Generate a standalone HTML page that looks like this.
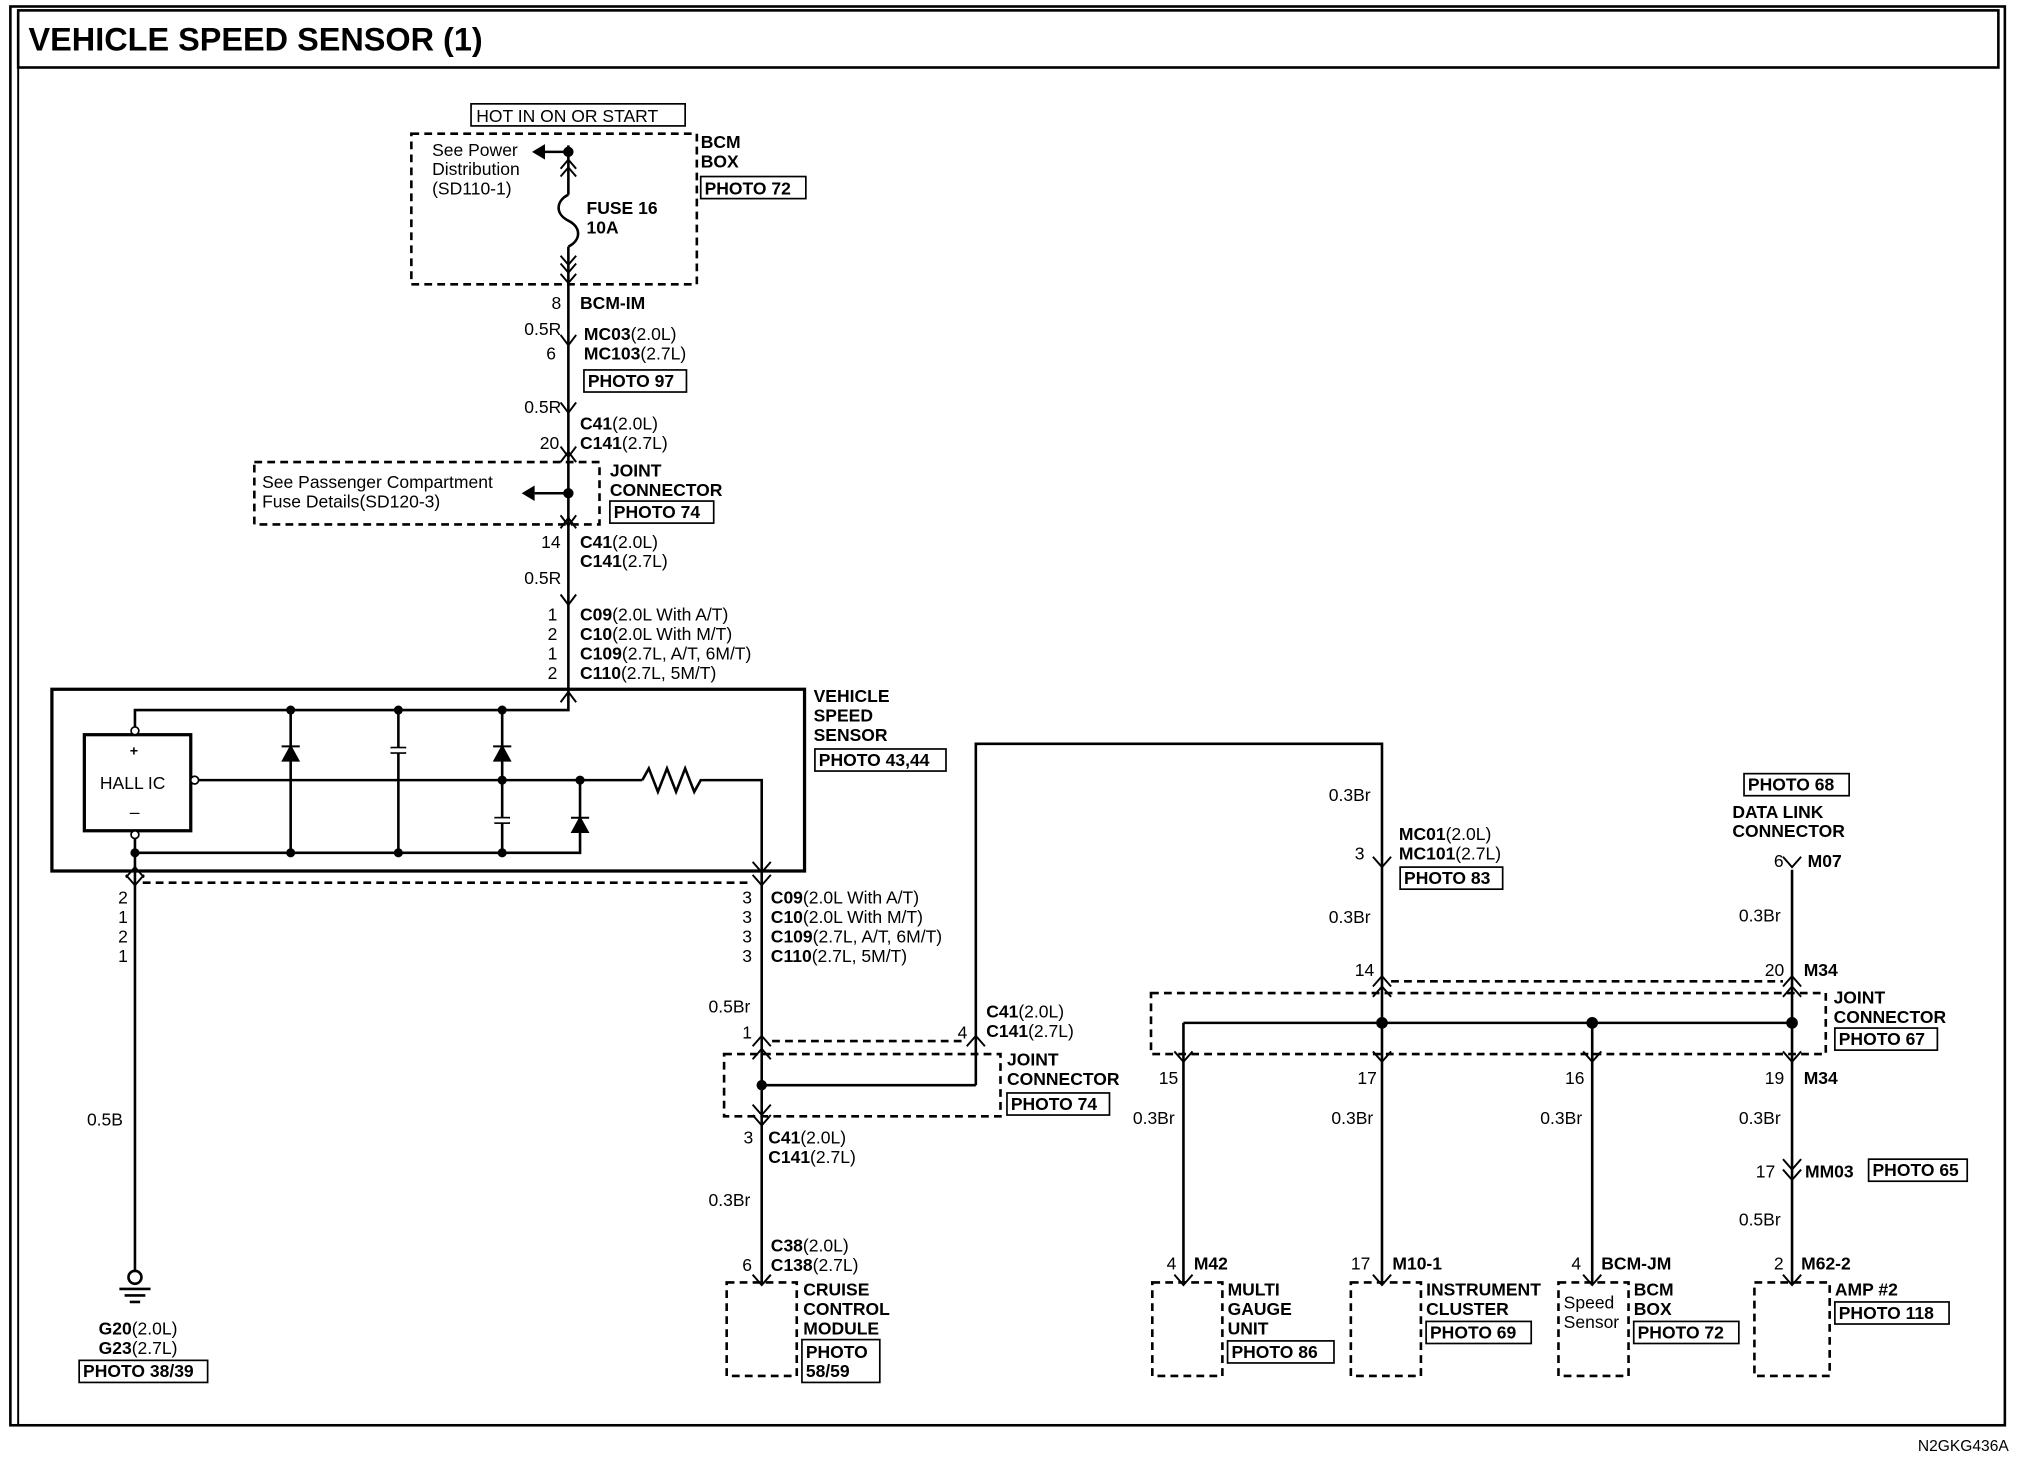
<!DOCTYPE html>
<html><head><meta charset="utf-8"><style>
html,body{margin:0;padding:0;background:#fff}
svg{display:block}
text{font-family:"Liberation Sans",Arial,sans-serif;font-size:13.5px;fill:#000}
.b{font-weight:bold}
</style></head><body>
<svg width="2036" height="1472" viewBox="0 0 1569 1134" preserveAspectRatio="none" xmlns="http://www.w3.org/2000/svg">
<g fill="none" stroke="#000" stroke-width="1.3">
<rect x="8" y="5" width="1537" height="1093" stroke-width="2"/>
<rect x="14" y="8" width="1526" height="44" stroke-width="2"/>
<line x1="14" y1="52" x2="14" y2="1098" stroke-width="1.5"/>
</g>
<text x="22" y="39" class="b" style="font-size:25px">VEHICLE SPEED SENSOR (1)</text>
<text x="1478" y="1118" style="font-size:12px">N2GKG436A</text>

<g fill="none" stroke="#000" stroke-width="2">
<line x1="438" y1="112" x2="438" y2="150"/>
<path d="M438 150 c-10 5 -10 15 0 20 c10 5 10 15 0 20"/>
<line x1="438" y1="190" x2="438" y2="531"/>
<line x1="438" y1="117" x2="420" y2="117"/>
<line x1="438" y1="380" x2="412" y2="380"/>
<rect x="40" y="531" width="580" height="140" stroke-width="2.5"/>
<rect x="65" y="566" width="82" height="74" stroke-width="2.5"/>
<polyline points="104,566 104,547 438,547 438,531"/>
<polyline points="104,640 104,657 447,657 447,601"/>
<line x1="147" y1="601" x2="495" y2="601"/>
<polyline points="495,601 500,592 507,610 514,592 521,610 528,592 535,610 540,601 587,601 587,671"/>
<line x1="224" y1="547" x2="224" y2="657"/>
<line x1="307" y1="547" x2="307" y2="657"/>
<line x1="387" y1="547" x2="387" y2="657"/>
<line x1="104" y1="657" x2="104" y2="980"/>
<line x1="587" y1="671" x2="587" y2="990"/>
<polyline points="752,805 752,573 1065,573 1065,990"/>
<line x1="587" y1="836" x2="752" y2="836"/>
<line x1="752" y1="805" x2="752" y2="836"/>
<line x1="1381" y1="670" x2="1381" y2="990"/>
<line x1="912" y1="788" x2="1381" y2="788"/>
<line x1="912" y1="788" x2="912" y2="990"/>
<line x1="1227" y1="788" x2="1227" y2="990"/>
</g>
<g fill="#000" stroke="#000" stroke-width="1.5">
<polygon points="218,586 230,586 224,575"/><line x1="217" y1="575" x2="231" y2="575"/>
<polygon points="381,586 393,586 387,575"/><line x1="380" y1="575" x2="394" y2="575"/>
<polygon points="441,641 453,641 447,630"/><line x1="440" y1="630" x2="454" y2="630"/>
<line x1="301" y1="576" x2="313" y2="576"/><line x1="301" y1="580" x2="313" y2="580"/>
<line x1="381" y1="630" x2="393" y2="630"/><line x1="381" y1="634" x2="393" y2="634"/>
</g>
<g fill="#fff" stroke="#fff"><rect x="302" y="577" width="10" height="2"/><rect x="382" y="631" width="10" height="2"/></g>
<g fill="#000">
<circle cx="438" cy="117" r="4"/><circle cx="438" cy="380" r="4"/>
<circle cx="224" cy="547" r="3.5"/><circle cx="307" cy="547" r="3.5"/><circle cx="387" cy="547" r="3.5"/>
<circle cx="224" cy="657" r="3.5"/><circle cx="307" cy="657" r="3.5"/><circle cx="387" cy="657" r="3.5"/><circle cx="104" cy="657" r="3.5"/>
<circle cx="387" cy="601" r="3.5"/><circle cx="447" cy="601" r="3.5"/>
<circle cx="587" cy="836" r="4"/>
<circle cx="1065" cy="788" r="4.5"/><circle cx="1227" cy="788" r="4.5"/><circle cx="1381" cy="788" r="4.5"/>
<polygon points="420,111 420,123 410,117"/><polygon points="412,374 412,386 402,380"/>
</g>
<g fill="#fff" stroke="#000" stroke-width="1.3">
<circle cx="104" cy="563" r="3"/><circle cx="104" cy="643" r="3"/><circle cx="150" cy="601" r="3"/>
</g>
<g fill="none" stroke="#000" stroke-width="1.5">
<path d="M432 136l6-7 6 7M432 130l6-7 6 7"/>
<path d="M432 197l6 7 6-7M432 203l6 7 6-7M432 211l6 7 6-7"/>
<path d="M432 258l6 8 6-8M432 310l6 8 6-8M432 344l6 8 6-8M432 356l6-8 6 8M432 397l6 8 6-8M432 407l6-8 6 8M432 458l6 8 6-8M432 541l6-8 6 8"/>
<path d="M97 676l7-8 7 8M97 674l7 8 7-8M580 664l7 8 7-8M580 674l7 8 7-8"/>
<path d="M580 806l7-8 7 8M580 816l7-8 7 8M745 806l7-8 7 8M580 851l7 8 7-8M580 859l7 8 7-8"/>
<path d="M580 982l7 8 7-8M1058 660l7 8 7-8M1374 660l7 8 7-8"/>
<path d="M1058 760l7-8 7 8M1058 768l7-8 7 8M1374 760l7-8 7 8M1374 768l7-8 7 8"/>
<path d="M905 810l7 8 7-8M1058 810l7 8 7-8M1220 810l7 8 7-8M1374 810l7 8 7-8"/>
<path d="M1374 893l7 8 7-8M1374 901l7 8 7-8"/>
<path d="M905 982l7 8 7-8M1058 982l7 8 7-8M1220 982l7 8 7-8M1374 982l7 8 7-8"/>
</g>
<g fill="none" stroke="#000" stroke-width="2">
<circle cx="104" cy="984" r="5"/><line x1="92" y1="993" x2="116" y2="993"/><line x1="96" y1="998" x2="112" y2="998"/><line x1="100" y1="1003" x2="108" y2="1003"/>
</g>
<g fill="none" stroke="#000" stroke-width="2" stroke-dasharray="6,4">
<rect x="317" y="103" width="220" height="116"/>
<rect x="196" y="356" width="266" height="48"/>
<line x1="110" y1="680" x2="580" y2="680"/>
<rect x="558" y="812" width="213" height="48"/>
<line x1="595" y1="802" x2="745" y2="802"/>
<rect x="887" y="765" width="520" height="47"/>
<line x1="1072" y1="756" x2="1374" y2="756"/>
<rect x="560" y="988" width="54" height="72"/>
<rect x="888" y="988" width="54" height="72"/>
<rect x="1041" y="988" width="54" height="72"/>
<rect x="1201" y="988" width="54" height="72"/>
<rect x="1352" y="988" width="58" height="72"/>
</g>
<g fill="none" stroke="#000" stroke-width="1.3">
<rect x="363" y="80" width="165" height="17"/>
<rect x="540" y="136" width="81" height="17"/>
<rect x="450" y="285" width="79" height="17"/>
<rect x="470" y="386" width="80" height="17"/>
<rect x="628" y="577" width="101" height="17"/>
<rect x="1079" y="668" width="79" height="17"/>
<rect x="1344" y="596" width="81" height="17"/>
<rect x="1414" y="792" width="79" height="17"/>
<rect x="776" y="842" width="79" height="17"/>
<rect x="1440" y="893" width="76" height="17"/>
<rect x="61" y="1048" width="99" height="17"/>
<rect x="618" y="1032" width="60" height="33"/>
<rect x="946" y="1033" width="82" height="17"/>
<rect x="1099" y="1018" width="81" height="17"/>
<rect x="1259" y="1018" width="81" height="17"/>
<rect x="1414" y="1003" width="88" height="17"/>
</g>
<text x="367" y="94">HOT IN ON OR START</text>
<text x="333" y="120">See Power</text><text x="333" y="135">Distribution</text><text x="333" y="150">(SD110-1)</text>
<text x="452" y="165" class="b">FUSE 16</text><text x="452" y="180" class="b">10A</text>
<text x="540" y="114" class="b">BCM</text><text x="540" y="129" class="b">BOX</text><text x="543" y="150" class="b">PHOTO 72</text>
<text x="425" y="238">8</text><text x="447" y="238" class="b">BCM-IM</text>
<text x="404" y="258">0.5R</text>
<text x="450" y="262"><tspan class="b">MC03</tspan>(2.0L)</text>
<text x="421" y="277">6</text><text x="450" y="277"><tspan class="b">MC103</tspan>(2.7L)</text>
<text x="453" y="298" class="b">PHOTO 97</text>
<text x="404" y="318">0.5R</text>
<text x="447" y="331"><tspan class="b">C41</tspan>(2.0L)</text>
<text x="416" y="346">20</text><text x="447" y="346"><tspan class="b">C141</tspan>(2.7L)</text>
<text x="202" y="376">See Passenger Compartment</text><text x="202" y="391">Fuse Details(SD120-3)</text>
<text x="470" y="367" class="b">JOINT</text><text x="470" y="382" class="b">CONNECTOR</text><text x="473" y="399" class="b">PHOTO 74</text>
<text x="417" y="422">14</text><text x="447" y="422"><tspan class="b">C41</tspan>(2.0L)</text>
<text x="447" y="437"><tspan class="b">C141</tspan>(2.7L)</text>
<text x="404" y="450">0.5R</text>
<text x="422" y="478">1</text><text x="447" y="478"><tspan class="b">C09</tspan>(2.0L With A/T)</text>
<text x="422" y="493">2</text><text x="447" y="493"><tspan class="b">C10</tspan>(2.0L With M/T)</text>
<text x="422" y="508">1</text><text x="447" y="508"><tspan class="b">C109</tspan>(2.7L, A/T, 6M/T)</text>
<text x="422" y="523">2</text><text x="447" y="523"><tspan class="b">C110</tspan>(2.7L, 5M/T)</text>
<text x="627" y="541" class="b">VEHICLE</text><text x="627" y="556" class="b">SPEED</text><text x="627" y="571" class="b">SENSOR</text><text x="631" y="590" class="b">PHOTO 43,44</text>
<text x="100" y="582" class="b" style="font-size:11px">+</text>
<text x="77" y="608">HALL IC</text><text x="100" y="630">–</text>
<text x="91" y="696">2</text><text x="91" y="711">1</text><text x="91" y="726">2</text><text x="91" y="741">1</text>
<text x="572" y="696">3</text><text x="594" y="696"><tspan class="b">C09</tspan>(2.0L With A/T)</text>
<text x="572" y="711">3</text><text x="594" y="711"><tspan class="b">C10</tspan>(2.0L With M/T)</text>
<text x="572" y="726">3</text><text x="594" y="726"><tspan class="b">C109</tspan>(2.7L, A/T, 6M/T)</text>
<text x="572" y="741">3</text><text x="594" y="741"><tspan class="b">C110</tspan>(2.7L, 5M/T)</text>
<text x="546" y="780">0.5Br</text>
<text x="572" y="800">1</text><text x="738" y="800">4</text>
<text x="760" y="784"><tspan class="b">C41</tspan>(2.0L)</text><text x="760" y="799"><tspan class="b">C141</tspan>(2.7L)</text>
<text x="776" y="821" class="b">JOINT</text><text x="776" y="836" class="b">CONNECTOR</text><text x="779" y="855" class="b">PHOTO 74</text>
<text x="573" y="881">3</text><text x="592" y="881"><tspan class="b">C41</tspan>(2.0L)</text><text x="592" y="896"><tspan class="b">C141</tspan>(2.7L)</text>
<text x="546" y="929">0.3Br</text>
<text x="594" y="964"><tspan class="b">C38</tspan>(2.0L)</text>
<text x="572" y="979">6</text><text x="594" y="979"><tspan class="b">C138</tspan>(2.7L)</text>
<text x="619" y="998" class="b">CRUISE</text><text x="619" y="1013" class="b">CONTROL</text><text x="619" y="1028" class="b">MODULE</text>
<text x="621" y="1046" class="b">PHOTO</text><text x="621" y="1061" class="b">58/59</text>
<text x="67" y="867">0.5B</text>
<text x="76" y="1028"><tspan class="b">G20</tspan>(2.0L)</text><text x="76" y="1043"><tspan class="b">G23</tspan>(2.7L)</text>
<text x="64" y="1061" class="b">PHOTO 38/39</text>
<text x="1024" y="617">0.3Br</text>
<text x="1078" y="647"><tspan class="b">MC01</tspan>(2.0L)</text>
<text x="1044" y="662">3</text><text x="1078" y="662"><tspan class="b">MC101</tspan>(2.7L)</text>
<text x="1082" y="681" class="b">PHOTO 83</text>
<text x="1024" y="711">0.3Br</text>
<text x="1044" y="752">14</text>
<text x="1347" y="609" class="b">PHOTO 68</text>
<text x="1335" y="630" class="b">DATA LINK</text><text x="1335" y="645" class="b">CONNECTOR</text>
<text x="1367" y="668">6</text><text x="1393" y="668" class="b">M07</text>
<text x="1340" y="710">0.3Br</text>
<text x="1360" y="752">20</text><text x="1390" y="752" class="b">M34</text>
<text x="1413" y="773" class="b">JOINT</text><text x="1413" y="788" class="b">CONNECTOR</text><text x="1417" y="805" class="b">PHOTO 67</text>
<text x="893" y="835">15</text><text x="1046" y="835">17</text><text x="1206" y="835">16</text>
<text x="1360" y="835">19</text><text x="1390" y="835" class="b">M34</text>
<text x="873" y="866">0.3Br</text><text x="1026" y="866">0.3Br</text><text x="1187" y="866">0.3Br</text><text x="1340" y="866">0.3Br</text>
<text x="1353" y="907">17</text><text x="1391" y="907" class="b">MM03</text><text x="1443" y="906" class="b">PHOTO 65</text>
<text x="1340" y="944">0.5Br</text>
<text x="899" y="978">4</text><text x="920" y="978" class="b">M42</text>
<text x="1041" y="978">17</text><text x="1073" y="978" class="b">M10-1</text>
<text x="1211" y="978">4</text><text x="1234" y="978" class="b">BCM-JM</text>
<text x="1367" y="978">2</text><text x="1388" y="978" class="b">M62-2</text>
<text x="946" y="998" class="b">MULTI</text><text x="946" y="1013" class="b">GAUGE</text><text x="946" y="1028" class="b">UNIT</text><text x="949" y="1046" class="b">PHOTO 86</text>
<text x="1099" y="998" class="b">INSTRUMENT</text><text x="1099" y="1013" class="b">CLUSTER</text><text x="1102" y="1031" class="b">PHOTO 69</text>
<text x="1205" y="1008">Speed</text><text x="1205" y="1023">Sensor</text>
<text x="1259" y="998" class="b">BCM</text><text x="1259" y="1013" class="b">BOX</text><text x="1262" y="1031" class="b">PHOTO 72</text>
<text x="1414" y="998" class="b">AMP #2</text><text x="1417" y="1016" class="b">PHOTO 118</text>
</svg>
</body></html>
